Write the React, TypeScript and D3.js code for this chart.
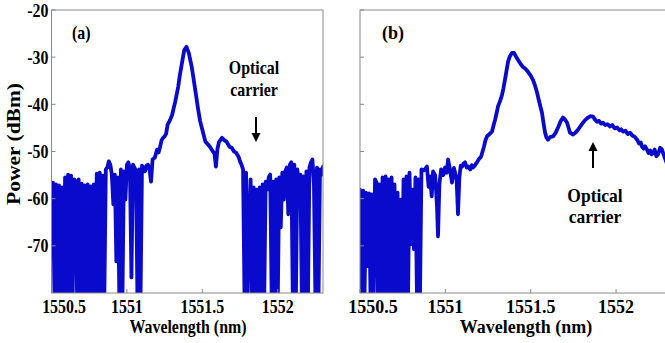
import React from "react";
import * as d3 from "d3";

const xTicks = [1550.5, 1551, 1551.5, 1552];
const yTicks = [-20, -30, -40, -50, -60, -70];

// Panel (a) spectrum [wavelength nm, power dBm]
const spectrumA: [number, number][] = [
  [1550.50,-65.0],[1550.51,-56.6],[1550.52,-82],[1550.53,-57.0],[1550.54,-82],[1550.55,-57.2],[1550.56,-82],[1550.57,-57.6],[1550.58,-82],[1550.59,-55.5],
  [1550.60,-82],[1550.61,-54.9],[1550.62,-82],[1550.63,-55.1],[1550.64,-82],[1550.65,-55.9],[1550.66,-56.4],[1550.67,-82],[1550.68,-55.9],[1550.69,-82],
  [1550.70,-56.8],[1550.71,-82],[1550.72,-57.2],[1550.73,-82],[1550.74,-57.0],[1550.75,-82],[1550.76,-57.4],[1550.77,-82],[1550.78,-57.0],[1550.79,-82],
  [1550.80,-54.7],[1550.81,-82],[1550.82,-54.5],[1550.83,-82],[1550.84,-55.1],[1550.85,-82],[1550.86,-53.8],[1550.87,-53.4],[1550.88,-52.1],[1550.89,-52.8],
  [1550.90,-54.9],[1550.91,-61.2],[1550.92,-54.9],[1550.93,-73.3],[1550.94,-55.5],[1550.95,-82],[1550.96,-53.8],[1550.97,-82],[1550.98,-54.2],[1550.99,-60.2],
  [1551.00,-52.8],[1551.01,-52.3],[1551.02,-53.8],[1551.03,-76.7],[1551.04,-52.8],[1551.05,-53.4],[1551.06,-54.2],[1551.07,-82],[1551.08,-53.8],[1551.09,-82],
  [1551.10,-53.0],[1551.11,-53.4],[1551.12,-54.2],[1551.13,-53.0],[1551.14,-52.8],[1551.15,-53.8],[1551.16,-56.4],[1551.17,-51.7],[1551.185,-51.3],[1551.20,-49.6],
  [1551.21,-50.2],[1551.22,-49.0],[1551.23,-47.6],[1551.24,-47.1],[1551.25,-46.8],[1551.26,-46.2],[1551.27,-44.3],[1551.285,-43.4],[1551.30,-42.2],[1551.31,-40.8],
  [1551.32,-39.5],[1551.34,-36.3],[1551.35,-34.0],[1551.365,-31.2],[1551.38,-28.5],[1551.395,-27.8],[1551.41,-29.1],[1551.43,-32.1],[1551.45,-36.3],[1551.47,-40.6],
  [1551.485,-43.5],[1551.50,-45.4],[1551.52,-47.9],[1551.535,-48.4],[1551.55,-49.0],[1551.57,-50.0],[1551.58,-50.4],[1551.59,-53.2],[1551.60,-49.5],[1551.61,-48.0],
  [1551.63,-47.1],[1551.645,-47.6],[1551.66,-47.9],[1551.68,-49.0],[1551.695,-49.2],[1551.71,-50.0],[1551.725,-50.3],[1551.74,-51.1],
  [1551.75,-52.1],[1551.76,-52.8],[1551.77,-53.8],[1551.78,-82],[1551.79,-54.5],[1551.80,-82],[1551.81,-65.7],[1551.82,-55.9],[1551.83,-82],[1551.84,-57.6],
  [1551.85,-82],[1551.86,-58.1],[1551.87,-82],[1551.88,-57.6],[1551.89,-82],[1551.90,-57.0],[1551.91,-82],[1551.92,-56.4],[1551.93,-58.1],[1551.94,-55.5],
  [1551.95,-54.9],[1551.96,-82],[1551.97,-56.4],[1551.98,-82],[1551.99,-55.9],[1552.00,-82],[1552.01,-55.5],[1552.02,-66.1],[1552.03,-54.5],[1552.04,-60.2],
  [1552.05,-54.2],[1552.06,-53.4],[1552.07,-63.3],[1552.08,-52.8],[1552.09,-52.3],[1552.10,-82],[1552.11,-52.8],[1552.12,-82],[1552.13,-53.8],[1552.14,-58.1],
  [1552.15,-54.9],[1552.16,-82],[1552.17,-55.3],[1552.18,-82],[1552.19,-54.2],[1552.20,-82],[1552.21,-53.4],[1552.22,-52.3],[1552.23,-51.7],[1552.24,-57.0],
  [1552.25,-82],[1552.26,-53.4],[1552.27,-82],[1552.28,-53.8],[1552.29,-54.9],[1552.30,-53.2],
];

// Panel (b) spectrum [wavelength nm, power dBm]
const spectrumB: [number, number][] = [
  [1550.500,-58.1],[1550.509,-82],[1550.518,-58.3],[1550.526,-82],[1550.535,-58.7],[1550.544,-74.3],[1550.553,-58.9],[1550.562,-82],[1550.570,-59.1],[1550.579,-82],
  [1550.588,-55.9],[1550.597,-56.6],[1550.605,-82],[1550.614,-57.0],[1550.623,-82],[1550.632,-55.5],[1550.641,-82],[1550.650,-55.3],[1550.658,-82],[1550.667,-55.9],
  [1550.676,-82],[1550.685,-55.5],[1550.693,-82],[1550.702,-57.0],[1550.711,-82],[1550.720,-58.7],[1550.728,-82],[1550.737,-60.2],[1550.746,-82],[1550.755,-55.9],
  [1550.764,-82],[1550.772,-55.3],[1550.781,-82],[1550.790,-54.5],[1550.799,-69.7],[1550.808,-58.1],[1550.816,-70.7],[1550.825,-55.5],[1550.834,-82],[1550.843,-55.9],
  [1550.851,-82],[1550.860,-53.8],[1550.875,-54.0],[1550.892,-53.2],[1550.902,-57.5],[1550.910,-55.3],[1550.920,-59.5],[1550.928,-54.2],[1550.940,-55.0],[1550.951,-61.6],
  [1550.957,-68.0],[1550.965,-57.0],[1550.975,-53.8],[1550.988,-55.0],[1550.998,-53.4],[1551.008,-54.5],[1551.016,-51.7],[1551.028,-54.0],[1551.039,-56.6],[1551.050,-53.5],
  [1551.057,-54.5],[1551.066,-56.0],[1551.074,-63.3],[1551.082,-55.5],[1551.090,-53.0],[1551.098,-53.2],[1551.106,-52.6],[1551.115,-52.3],[1551.125,-53.4],[1551.133,-53.2],
  [1551.145,-53.8],[1551.155,-52.9],[1551.162,-53.4],[1551.172,-53.0],[1551.185,-52.3],[1551.197,-51.6],[1551.209,-51.1],[1551.218,-50.0],[1551.226,-49.0],[1551.235,-47.6],
  [1551.244,-46.8],[1551.258,-46.3],[1551.273,-45.8],[1551.282,-44.5],[1551.291,-43.3],[1551.300,-41.9],[1551.308,-40.5],[1551.320,-39.3],[1551.332,-38.0],[1551.340,-36.6],
  [1551.349,-34.8],[1551.358,-32.9],[1551.367,-31.0],[1551.378,-29.8],[1551.390,-29.1],[1551.402,-29.1],[1551.414,-29.9],[1551.426,-30.6],[1551.440,-31.4],[1551.455,-32.1],
  [1551.470,-32.5],[1551.484,-33.1],[1551.500,-33.9],[1551.513,-34.8],[1551.525,-36.0],[1551.537,-37.5],[1551.550,-39.5],[1551.566,-41.8],[1551.575,-44.0],[1551.584,-46.0],
  [1551.592,-47.0],[1551.601,-47.5],[1551.615,-46.9],[1551.631,-46.8],[1551.645,-46.1],[1551.660,-44.9],[1551.675,-43.6],[1551.689,-42.8],[1551.700,-43.2],[1551.713,-43.9],
  [1551.722,-45.0],[1551.730,-46.0],[1551.748,-46.4],[1551.762,-46.0],[1551.777,-45.4],[1551.792,-44.6],[1551.806,-43.9],[1551.820,-43.3],[1551.836,-42.8],[1551.850,-42.5],
  [1551.865,-42.6],[1551.876,-43.2],[1551.888,-43.7],[1551.900,-43.5],[1551.912,-44.1],[1551.924,-43.9],[1551.936,-44.4],[1551.950,-44.2],[1551.965,-44.7],[1551.978,-44.4],
  [1551.992,-45.1],[1552.006,-44.9],[1552.020,-45.5],[1552.030,-45.3],[1552.041,-45.8],[1552.055,-45.6],[1552.068,-46.3],[1552.082,-46.0],[1552.095,-46.6],[1552.110,-46.9],
  [1552.123,-47.5],[1552.135,-48.3],[1552.145,-48.1],[1552.152,-49.0],[1552.162,-49.4],[1552.170,-48.9],[1552.181,-49.6],[1552.190,-50.3],[1552.200,-49.8],[1552.208,-50.6],
  [1552.216,-50.2],[1552.226,-49.6],[1552.236,-51.0],[1552.246,-50.6],[1552.258,-49.2],[1552.269,-49.6],[1552.278,-50.6],[1552.287,-51.5],[1552.30,-52.8],
];

const FONT = "'Liberation Serif', 'Times New Roman', serif";
const LINE = "#0a0acc";
const AXIS = "#8a8a8a";
const FS = 18.5; // font size, glyphs slightly condensed horizontally
const SQ = 0.86; // base horizontal squeeze of the source image

const yScale = d3.scaleLinear().domain([-80, -20]).range([293, 10]);

function T({
  x,
  y,
  sx = SQ,
  anchor = "middle",
  size = FS,
  children,
}: {
  x: number;
  y: number;
  sx?: number;
  anchor?: "start" | "middle" | "end";
  size?: number;
  children: React.ReactNode;
}) {
  return (
    <text
      transform={`translate(${x},${y}) scale(${sx},1)`}
      textAnchor={anchor}
      fontFamily={FONT}
      fontWeight="bold"
      fontSize={size}
      fill="#000"
    >
      {children}
    </text>
  );
}

type PanelProps = {
  id: string;
  data: [number, number][];
  x0: number;
  x1: number;
  sx: number;
  showYLabels: boolean;
  tag: string;
  firstLabelShift: number;
  titleX: number;
  tagX: number;
};

function Panel({ id, data, x0, x1, sx, showYLabels, tag, firstLabelShift, titleX, tagX }: PanelProps) {
  const xScale = d3.scaleLinear().domain([1550.5, 1552.3]).range([x0, x1]);
  const line = d3
    .line<[number, number]>()
    .x((d) => xScale(d[0]))
    .y((d) => yScale(d[1]));
  const top = yScale(-20);
  const bottom = yScale(-80);
  return (
    <g>
      <defs>
        <clipPath id={id}>
          <rect x={x0} y={top} width={x1 - x0} height={bottom - top} />
        </clipPath>
      </defs>
      <path
        d={line(data) || ""}
        fill="none"
        stroke={LINE}
        strokeWidth={3.8}
        strokeLinejoin="round"
        strokeLinecap="round"
        clipPath={`url(#${id})`}
      />
      <rect x={x0} y={top} width={x1 - x0} height={bottom - top} fill="none" stroke={AXIS} strokeWidth={1} />
      {xTicks.map((t) => (
        <line key={`xt${t}`} x1={xScale(t)} x2={xScale(t)} y1={bottom} y2={bottom - 4} stroke={AXIS} strokeWidth={1} />
      ))}
      {yTicks.map((t) => (
        <line key={`yt${t}`} x1={x0} x2={x0 + 4} y1={yScale(t)} y2={yScale(t)} stroke={AXIS} strokeWidth={1} />
      ))}
      {xTicks.map((t, i) => (
        <T key={`xl${t}`} x={xScale(t) + (i === 0 ? firstLabelShift : 0)} y={313} sx={sx}>
          {String(t)}
        </T>
      ))}
      {showYLabels &&
        yTicks.map((t) => (
          <T key={`yl${t}`} x={48.5} y={yScale(t) + 6.5} sx={sx} anchor="end">
            {String(t)}
          </T>
        ))}
      <T x={titleX} y={332.5} sx={sx}>
        Wavelength (nm)
      </T>
      <T x={tagX} y={38.5} sx={sx} anchor="start">
        {tag}
      </T>
    </g>
  );
}

function Arrow({ x, yTail, yTip }: { x: number; yTail: number; yTip: number }) {
  const dir = yTip > yTail ? 1 : -1;
  const base = yTip - dir * 9;
  return (
    <g>
      <line x1={x} x2={x} y1={yTail} y2={base} stroke="#000" strokeWidth={2} />
      <polygon points={`${x - 4.5},${base} ${x + 4.5},${base} ${x},${yTip}`} fill="#000" />
    </g>
  );
}

export default function App() {
  return (
    <svg
      width={665}
      height={343}
      style={{ position: "absolute", left: 0, top: 0, background: "#fff" }}
    >
      <Panel id="clipA" data={spectrumA} x0={51.5} x1={323} sx={SQ} showYLabels={true} tag="(a)" firstLabelShift={12.5} titleX={188} tagX={72} />
      <Panel id="clipB" data={spectrumB} x0={360} x1={667.3} sx={SQ * 1.13} showYLabels={false} tag="(b)" firstLabelShift={13} titleX={526} tagX={382} />
      <text
        transform="translate(19.5,144) rotate(-90)"
        textAnchor="middle"
        fontFamily={FONT}
        fontWeight="bold"
        fontSize={18}
        textLength={122}
        lengthAdjust="spacingAndGlyphs"
        fill="#000"
      >
        Power (dBm)
      </text>
      {/* annotations panel (a) */}
      <T x={254} y={74}>Optical</T>
      <T x={254} y={96}>carrier</T>
      <Arrow x={256} yTail={117} yTip={142} />
      {/* annotations panel (b) */}
      <T x={595} y={201.5} sx={SQ * 1.1}>Optical</T>
      <T x={595} y={223} sx={SQ * 1.1}>carrier</T>
      <Arrow x={593} yTail={168} yTip={142} />
    </svg>
  );
}
